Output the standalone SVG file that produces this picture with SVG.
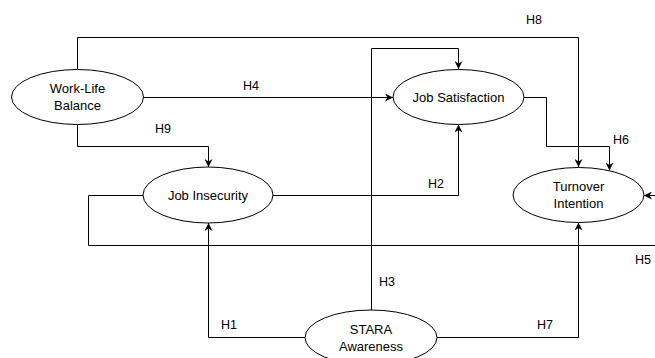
<svg xmlns="http://www.w3.org/2000/svg" width="655" height="358" viewBox="0 0 655 358">
<defs>
<marker id="arr" viewBox="0 0 10 10" refX="10" refY="5" markerWidth="8" markerHeight="8" markerUnits="userSpaceOnUse" orient="auto">
<path d="M0,0 L10,5 L0,10 L3,5 Z" fill="#000"/>
</marker>
<style>
.node ellipse{fill:#fff;stroke:#000;stroke-width:1}
text{font-family:"Liberation Sans",Arial,sans-serif;font-size:12.5px;fill:#000;text-anchor:middle;dominant-baseline:central}
.node text{font-size:13px}
.edges path{fill:none;stroke:#000;stroke-width:1;marker-end:url(#arr)}
</style>
</defs>
<rect width="655" height="358" fill="#fff"/>
<g class="edges" id="connectors">
<path d="M77.5,69.5 V37.5 H578.5 V167"/>
<path d="M143,97.5 H393"/>
<path d="M77.5,124.5 V146.5 H208.5 V167"/>
<path d="M371.5,310 V48.5 H458.5 V69"/>
<path d="M273,195.5 H458.5 V124.5"/>
<path d="M524,97.5 H546.5 V146.5 H609.5 V170.5"/>
<path d="M143,195.5 H88.5 V245.5 H670 V195.5 H644"/>
<path d="M305,337.5 H208.5 V223"/>
<path d="M437,337.5 H578.5 V222.5"/>
</g>
<g id="labels">
<text x="534" y="20">H8</text>
<text x="251" y="86">H4</text>
<text x="163" y="129">H9</text>
<text x="387" y="282">H3</text>
<text x="436" y="184">H2</text>
<text x="621" y="140">H6</text>
<text x="643" y="260">H5</text>
<text x="229" y="325">H1</text>
<text x="545" y="325">H7</text>
</g>
<g class="node" id="work-life-balance">
<ellipse cx="77.5" cy="97" rx="66" ry="27.5"/>
<text x="77.5" y="88.5">Work-Life</text>
<text x="77.5" y="105.5">Balance</text>
</g>
<g class="node" id="job-satisfaction">
<ellipse cx="458.5" cy="97" rx="65.5" ry="27.5"/>
<text x="458.5" y="97">Job Satisfaction</text>
</g>
<g class="node" id="job-insecurity">
<ellipse cx="208" cy="195" rx="65" ry="28"/>
<text x="208" y="195">Job Insecurity</text>
</g>
<g class="node" id="turnover-intention">
<ellipse cx="578.5" cy="195" rx="65.5" ry="27.5"/>
<text x="578.5" y="186.5">Turnover</text>
<text x="578.5" y="203.5">Intention</text>
</g>
<g class="node" id="stara-awareness">
<ellipse cx="371" cy="337.5" rx="66" ry="27.5"/>
<text x="371" y="329">STARA</text>
<text x="371" y="346">Awareness</text>
</g>
</svg>
